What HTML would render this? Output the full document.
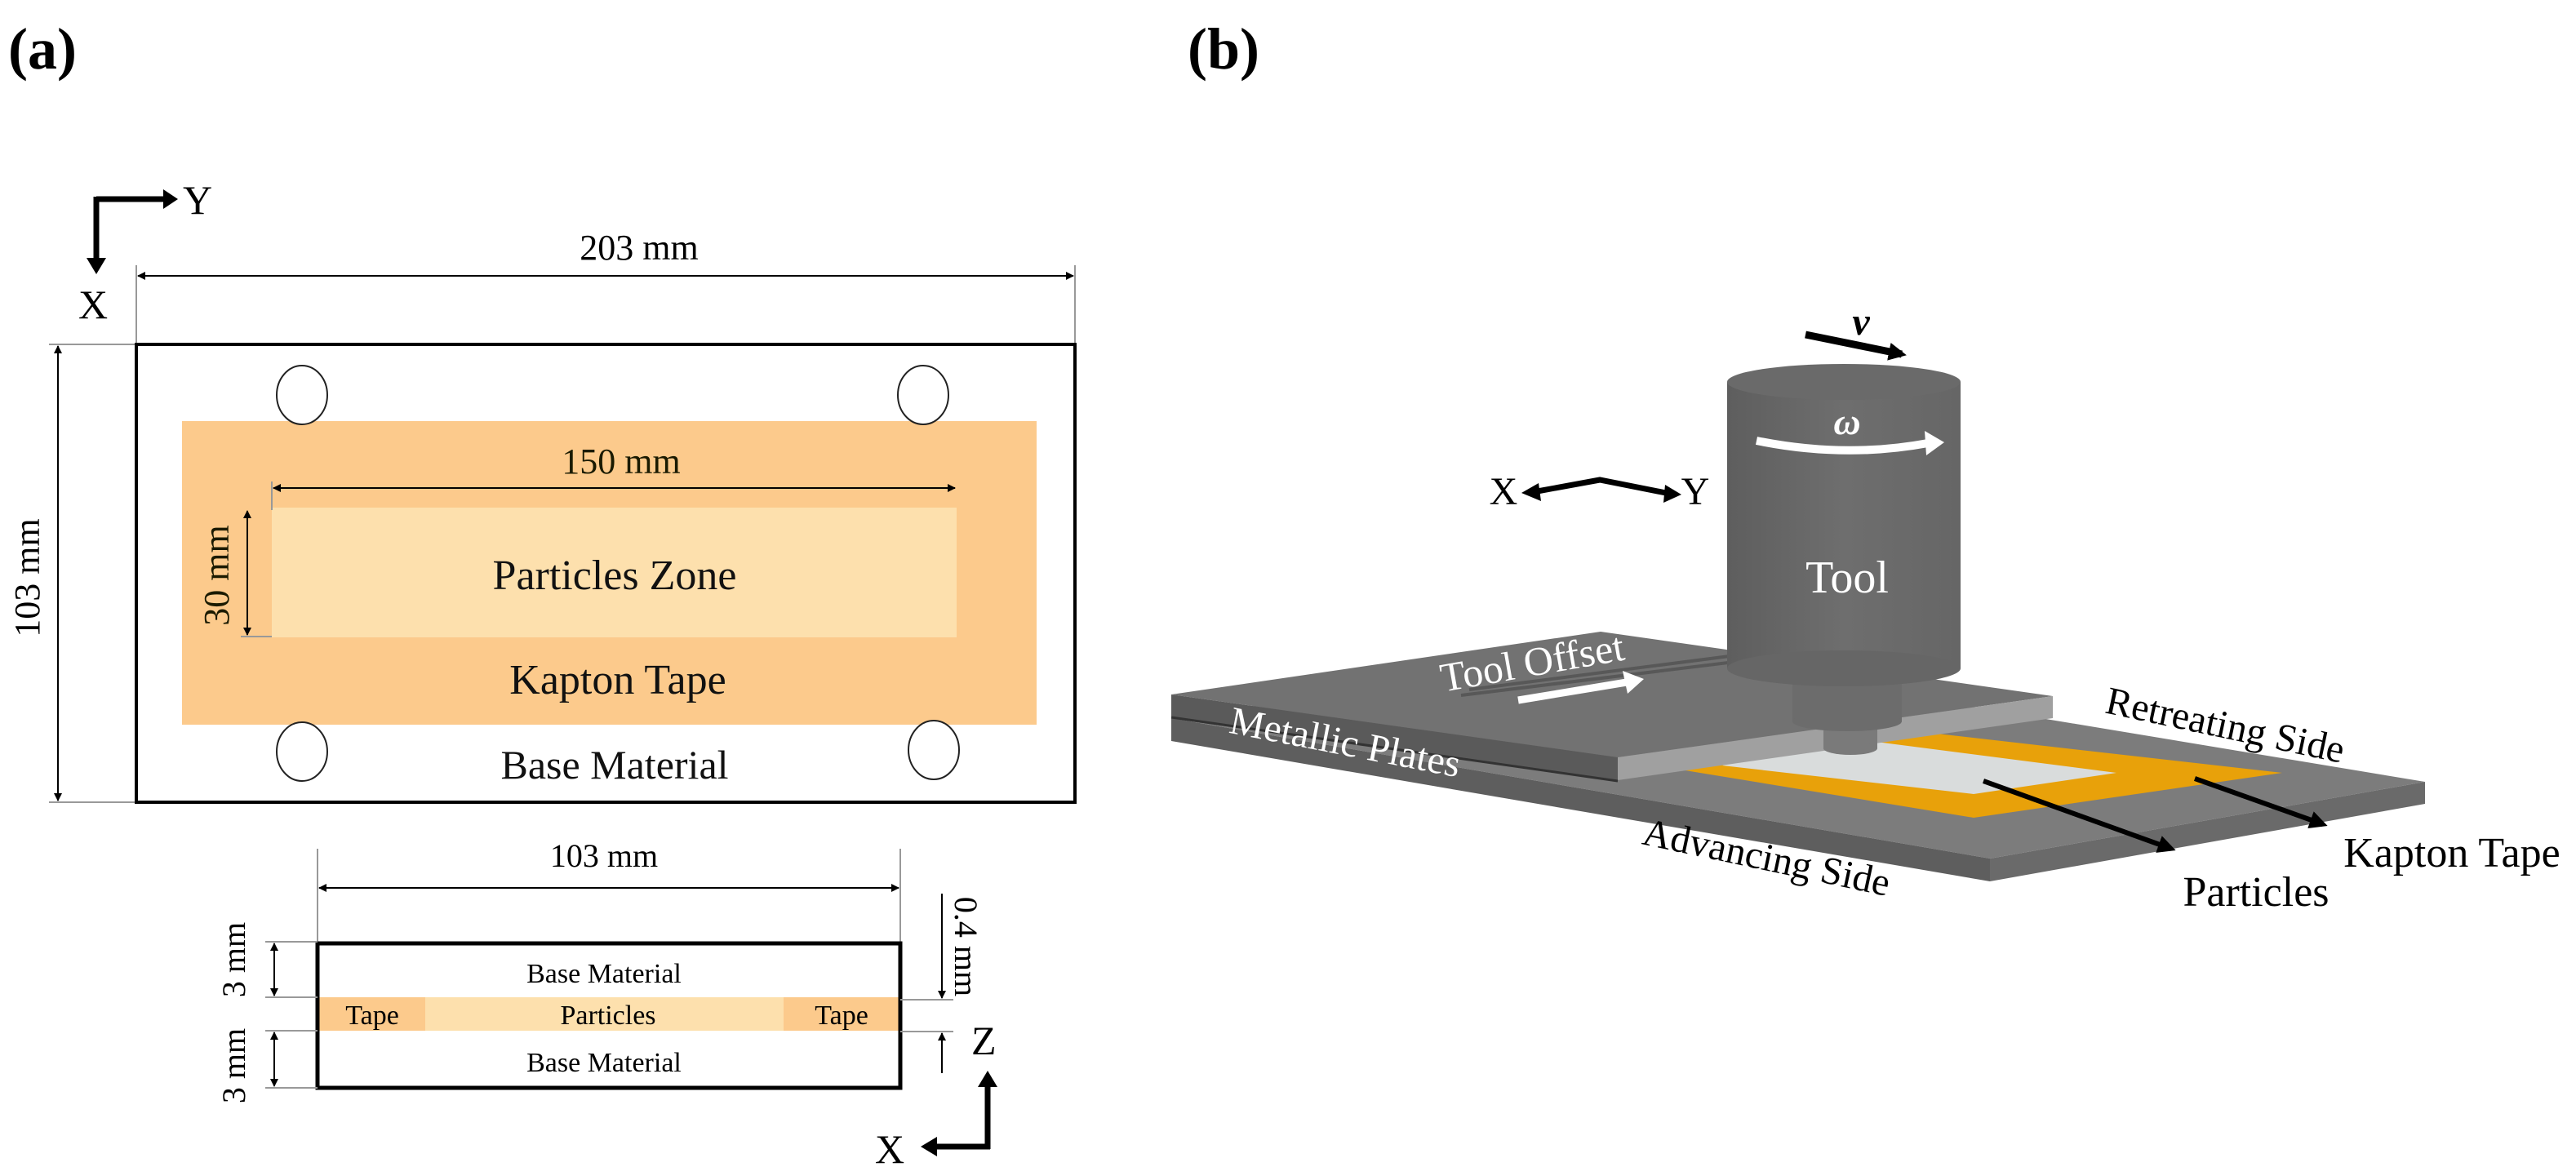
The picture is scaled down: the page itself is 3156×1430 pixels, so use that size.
<!DOCTYPE html>
<html><head><meta charset="utf-8"><style>
html,body{margin:0;padding:0;background:#fff}
svg{display:block}
text{font-family:"Liberation Serif",serif}
</style></head><body>
<svg width="3156" height="1430" viewBox="0 0 3156 1430" xmlns="http://www.w3.org/2000/svg">
<defs>
<marker id="ah" markerWidth="10" markerHeight="10" refX="9" refY="5" orient="auto-start-reverse" markerUnits="userSpaceOnUse"><path d="M0,0 L10,5 L0,10 z" fill="#000"/></marker>
<marker id="ah2" markerWidth="22" markerHeight="22" refX="16" refY="11" orient="auto" markerUnits="userSpaceOnUse"><path d="M0,0 L22,11 L0,22 z" fill="#000"/></marker>
<linearGradient id="cyl" x1="0" x2="1"><stop offset="0" stop-color="#5e5e5e"/><stop offset="0.5" stop-color="#6e6e6e"/><stop offset="1" stop-color="#666"/></linearGradient>
</defs>

<!-- (a) -->
<text x="10" y="84" font-size="72" font-weight="bold">(a)</text>
<path d="M118,244 H200" stroke="#000" stroke-width="7" fill="none"/>
<path d="M200,232 L218,244 L200,256 z"/>
<path d="M118,241 V318" stroke="#000" stroke-width="7" fill="none"/>
<path d="M106,316 L118,336 L130,316 z"/>
<text x="224" y="262" font-size="50">Y</text>
<text x="96" y="390" font-size="50">X</text>

<text x="783" y="318" font-size="44" text-anchor="middle">203 mm</text>
<line x1="169" y1="338" x2="1315" y2="338" stroke="#000" stroke-width="2" marker-start="url(#ah)" marker-end="url(#ah)"/>
<line x1="167" y1="325" x2="167" y2="422" stroke="#999" stroke-width="2"/>
<line x1="1317" y1="325" x2="1317" y2="422" stroke="#999" stroke-width="2"/>
<line x1="71" y1="424" x2="71" y2="981" stroke="#000" stroke-width="2" marker-start="url(#ah)" marker-end="url(#ah)"/>
<line x1="60" y1="422" x2="167" y2="422" stroke="#999" stroke-width="2"/>
<line x1="60" y1="983" x2="167" y2="983" stroke="#999" stroke-width="2"/>
<text transform="translate(48,708) rotate(-90)" font-size="44" text-anchor="middle">103 mm</text>

<rect x="167" y="422" width="1150" height="561" fill="#fff" stroke="#000" stroke-width="4"/>
<rect x="223" y="516" width="1047" height="372" fill="#fcca8c"/>
<rect x="333" y="622" width="839" height="159" fill="#fde0ad"/>
<ellipse cx="370" cy="484" rx="31" ry="36" fill="#fff" stroke="#222" stroke-width="2"/>
<ellipse cx="1131" cy="484" rx="31" ry="36" fill="#fff" stroke="#222" stroke-width="2"/>
<ellipse cx="370" cy="921" rx="31" ry="36" fill="#fff" stroke="#222" stroke-width="2"/>
<ellipse cx="1144" cy="919" rx="31" ry="36" fill="#fff" stroke="#222" stroke-width="2"/>
<text x="761" y="580" font-size="44" text-anchor="middle" fill="#1a1a00">150 mm</text>
<line x1="335" y1="598" x2="1170" y2="598" stroke="#000" stroke-width="2" marker-start="url(#ah)" marker-end="url(#ah)"/>
<line x1="333" y1="590" x2="333" y2="625" stroke="#999" stroke-width="2"/>
<line x1="303" y1="626" x2="303" y2="778" stroke="#000" stroke-width="2" marker-start="url(#ah)" marker-end="url(#ah)"/>
<line x1="295" y1="780" x2="333" y2="780" stroke="#999" stroke-width="2"/>
<text transform="translate(280,705) rotate(-90)" font-size="44" text-anchor="middle" fill="#1a1a00">30 mm</text>
<text x="753" y="722" font-size="52" text-anchor="middle" fill="#111">Particles Zone</text>
<text x="757" y="850" font-size="52" text-anchor="middle" fill="#111">Kapton Tape</text>
<text x="753" y="954" font-size="50" text-anchor="middle" fill="#111">Base Material</text>

<!-- lower section -->
<text x="740" y="1062" font-size="40" text-anchor="middle">103 mm</text>
<line x1="391" y1="1088" x2="1101" y2="1088" stroke="#000" stroke-width="2" marker-start="url(#ah)" marker-end="url(#ah)"/>
<line x1="389" y1="1040" x2="389" y2="1154" stroke="#999" stroke-width="2"/>
<line x1="1103" y1="1040" x2="1103" y2="1154" stroke="#999" stroke-width="2"/>
<rect x="391" y="1222" width="710" height="41" fill="#fde0ad"/>
<rect x="391" y="1222" width="130" height="41" fill="#fcca8c"/>
<rect x="960" y="1222" width="141" height="41" fill="#fcca8c"/>
<rect x="389" y="1156" width="714" height="177" fill="none" stroke="#000" stroke-width="5"/>
<text x="740" y="1204" font-size="34" text-anchor="middle">Base Material</text>
<text x="745" y="1255" font-size="34" text-anchor="middle">Particles</text>
<text x="456" y="1255" font-size="34" text-anchor="middle">Tape</text>
<text x="1031" y="1255" font-size="34" text-anchor="middle">Tape</text>
<text x="740" y="1313" font-size="34" text-anchor="middle">Base Material</text>
<line x1="325" y1="1154" x2="389" y2="1154" stroke="#999" stroke-width="2"/>
<line x1="325" y1="1222" x2="389" y2="1222" stroke="#999" stroke-width="2"/>
<line x1="325" y1="1263" x2="389" y2="1263" stroke="#999" stroke-width="2"/>
<line x1="325" y1="1333" x2="389" y2="1333" stroke="#999" stroke-width="2"/>
<line x1="336" y1="1156" x2="336" y2="1220" stroke="#000" stroke-width="2" marker-start="url(#ah)" marker-end="url(#ah)"/>
<line x1="336" y1="1265" x2="336" y2="1331" stroke="#000" stroke-width="2" marker-start="url(#ah)" marker-end="url(#ah)"/>
<text transform="translate(300,1176) rotate(-90)" font-size="40" text-anchor="middle">3 mm</text>
<text transform="translate(300,1306) rotate(-90)" font-size="40" text-anchor="middle">3 mm</text>
<line x1="1103" y1="1225" x2="1168" y2="1225" stroke="#999" stroke-width="2"/>
<line x1="1103" y1="1264" x2="1168" y2="1264" stroke="#999" stroke-width="2"/>
<line x1="1154" y1="1095" x2="1154" y2="1223" stroke="#000" stroke-width="2" marker-end="url(#ah)"/>
<line x1="1154" y1="1315" x2="1154" y2="1266" stroke="#000" stroke-width="2" marker-end="url(#ah)"/>
<text transform="translate(1170,1160) rotate(90)" font-size="40" text-anchor="middle">0.4 mm</text>
<text x="1190" y="1292" font-size="50">Z</text>
<path d="M1210,1408 V1330" stroke="#000" stroke-width="7" fill="none"/>
<path d="M1198,1332 L1210,1312 L1222,1332 z"/>
<path d="M1213,1405 H1145" stroke="#000" stroke-width="7" fill="none"/>
<path d="M1148,1393 L1128,1405 L1148,1417 z"/>
<text x="1072" y="1425" font-size="50">X</text>

<!-- (b) -->
<text x="1455" y="84" font-size="72" font-weight="bold">(b)</text>

<!-- bottom plate -->
<polygon points="1435,880 2000,797 2971,958 2438,1052" fill="#7c7c7c"/>
<polygon points="1435,880 2438,1052 2438,1080 1435,908" fill="#5e5e5e"/>
<polygon points="2438,1052 2971,958 2971,985 2438,1080" fill="#6a6a6a"/>
<!-- tape -->
<polygon points="2040,940 2320,893 2796,947 2418,1002" fill="#e8a10a"/>
<polygon points="2110,938 2229,900 2593,947 2418,973" fill="#d9dcdc"/>
<!-- top plate -->
<polygon points="1435,851 1961,774 2515,853 1982,928" fill="#727272"/>
<polygon points="1435,851 1982,928 1982,956 1435,878" fill="#5a5a5a"/>
<polygon points="1982,928 2515,853 2515,880 1982,956" fill="#a0a0a0"/>
<line x1="1435" y1="879" x2="1982" y2="957" stroke="#333" stroke-width="3"/>
<path d="M1800,845 L2150,800 M1790,852 L2150,808" stroke="#585858" stroke-width="4"/>

<!-- tool -->
<rect x="2234" y="880" width="66" height="37" fill="#7a7a7a"/>
<ellipse cx="2267" cy="917" rx="33" ry="8" fill="#7a7a7a"/>
<rect x="2196" y="819" width="134" height="65" fill="#6c6c6c"/>
<ellipse cx="2263" cy="884" rx="67" ry="12" fill="#6c6c6c"/>
<rect x="2116" y="468" width="286" height="351" fill="url(#cyl)"/>
<ellipse cx="2259" cy="819" rx="143" ry="22" fill="#666"/>
<ellipse cx="2259" cy="468" rx="143" ry="22" fill="#6a6a6a"/>
<path d="M2152,540 Q2260,562 2362,543" stroke="#fff" stroke-width="10" fill="none"/>
<path d="M2358,528 L2382,542 L2360,558 z" fill="#fff"/>
<text x="2263" y="532" font-size="46" font-style="italic" font-weight="bold" fill="#fff" text-anchor="middle">ω</text>
<text x="2263" y="726" font-size="56" fill="#fff" text-anchor="middle">Tool</text>
<line x1="2212" y1="410" x2="2330" y2="434" stroke="#000" stroke-width="9" marker-end="url(#ah2)"/>
<text x="2280" y="410" font-size="48" font-style="italic" font-weight="bold" text-anchor="middle">v</text>
<text x="1842" y="618" font-size="48" text-anchor="middle">X</text>
<text x="2077" y="618" font-size="48" text-anchor="middle">Y</text>
<path d="M1878,603 L1960,588 L2046,605" stroke="#000" stroke-width="7" fill="none"/>
<path d="M1885,592 L1864,604 L1888,614 z"/>
<path d="M2040,594 L2060,606 L2038,616 z"/>
<text transform="translate(1880,828) rotate(-10)" font-size="50" fill="#fff" text-anchor="middle">Tool Offset</text>
<path d="M1860,858 L1993,836" stroke="#fff" stroke-width="9"/>
<path d="M1988,822 L2014,832 L1994,850 z" fill="#fff"/>
<text transform="translate(1645,925) rotate(11)" font-size="48" fill="#fff" text-anchor="middle">Metallic Plates</text>
<text transform="translate(2723,904) rotate(12)" font-size="48" text-anchor="middle">Retreating  Side</text>
<text transform="translate(2161,1066) rotate(12)" font-size="48" text-anchor="middle">Advancing Side</text>
<text x="3004" y="1062" font-size="52" text-anchor="middle">Kapton Tape</text>
<text x="2764" y="1110" font-size="52" text-anchor="middle">Particles</text>
<line x1="2430" y1="957" x2="2660" y2="1040" stroke="#000" stroke-width="6" marker-end="url(#ah2)"/>
<line x1="2689" y1="954" x2="2846" y2="1010" stroke="#000" stroke-width="6" marker-end="url(#ah2)"/>
</svg>
</body></html>
